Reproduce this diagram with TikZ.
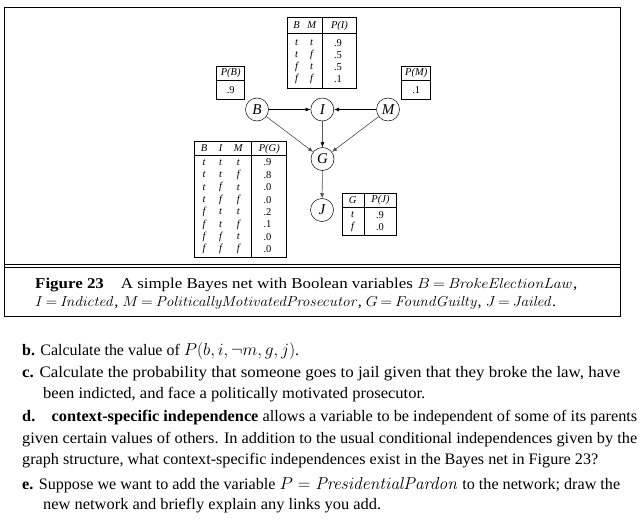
\documentclass[tikz,border=0pt]{standalone}
\usepackage[no-math]{fontspec}
\setmainfont{Liberation Serif}
\usepackage{graphicx}
\usetikzlibrary{arrows.meta}
\newcommand\fitline[2]{\resizebox{#1}{\height}{#2}}
\begin{document}
\begin{tikzpicture}[x=1pt,y=-1pt,
  frame/.style={line width=0.9pt},
  var/.style={circle,draw,line width=0.5pt,inner sep=0pt,minimum size=23pt,font=\fontsize{15}{15}\selectfont\itshape},
  arr/.style={line width=0.6pt,-{Latex[length=5pt,width=4pt]}},
  arrg/.style={arr,draw=black!70},
  tbl/.style={line width=0.7pt},
  tt/.style={inner sep=0pt,font=\fontsize{10.5}{11}\selectfont\itshape},
  tv/.style={inner sep=0pt,font=\fontsize{10.5}{11}\selectfont},
  txt/.style={anchor=base west,inner sep=0pt,font=\fontsize{16}{20}\selectfont},
  captxt/.style={anchor=base west,inner sep=0pt,font=\fontsize{15}{18}\selectfont}]
\useasboundingbox (0,0) rectangle (642,524);
% frame
\draw[frame] (4,7) -- (620,7) -- (620,316) -- (4,316) -- cycle;
\draw[line width=0.6pt] (4,264.7) -- (620,264.7);
\draw[line width=0.6pt] (4,266.8) -- (620,266.8);
% nodes
\node[var] (B) at (257,109.5) {B};
\node[var] (I) at (322.3,109.5) {I};
\node[var] (M) at (388,109.5) {M};
\node[var] (G) at (322.5,159) {G};
\node[var] (J) at (322,210) {J};
\draw[arr] (B) -- (I);
\draw[arr] (M) -- (I);
\draw[arrg] (B) -- (G);
\draw[arr] (I) -- (G);
\draw[arrg] (M) -- (G);
\draw[arrg] (G) -- (J);
% P(B)
\draw[tbl] (216.7,66) rectangle (244.7,99.3);
\draw[tbl] (216.7,80) -- (244.7,80);
\node[tt] (pbh) at (230.7,73) {P(B)};
\node[tv] (pbv) at (230.7,90) {.9};
% P(M)
\draw[tbl] (401.7,66) rectangle (430.7,99.3);
\draw[tbl] (401.7,80) -- (430.7,80);
\node[tt] (pmh) at (416.2,73) {P(M)};
\node[tv] (pmv) at (416.2,90) {.1};
% P(I)
\draw[tbl] (287.3,17.3) rectangle (356.7,88.3);
\draw[tbl] (287.3,33.3) -- (356.7,33.3);
\draw[tbl] (322.7,17.3) -- (322.7,88.3);
\node[tt] (pih1) at (296.7,25.5) {B};
\node[tt] (pih2) at (311.7,25.5) {M};
\node[tt] (pih3) at (339.5,25.5) {P(I)};
\foreach \a/\b/\v [count=\k from 0] in {t/t/.9,t/f/.5,f/t/.5,f/f/.1}{
  \node[tt] (pia\k) at (296.7,42.7+\k*12.1) {\a};
  \node[tt] (pib\k) at (311.7,42.7+\k*12.1) {\b};
  \node[tv] (piv\k) at (338,42.7+\k*12.1) {\v};
}
% P(G)
\draw[tbl] (194.3,141.7) rectangle (286.7,257.3);
\draw[tbl] (194.3,155) -- (286.7,155);
\draw[tbl] (251.7,141.7) -- (251.7,257.3);
\node[tt] (pgh1) at (204,148.5) {B};
\node[tt] (pgh2) at (220.7,148.5) {I};
\node[tt] (pgh3) at (238.3,148.5) {M};
\node[tt] (pgh4) at (269.3,148.5) {P(G)};
\foreach \a/\b/\c/\v [count=\k from 0] in {t/t/t/.9,t/t/f/.8,t/f/t/.0,t/f/f/.0,f/t/t/.2,f/t/f/.1,f/f/t/.0,f/f/f/.0}{
  \node[tt] (pga\k) at (204,162.3+\k*12.43) {\a};
  \node[tt] (pgb\k) at (220.7,162.3+\k*12.43) {\b};
  \node[tt] (pgc\k) at (238.3,162.3+\k*12.43) {\c};
  \node[tv] (pgv\k) at (267.5,162.3+\k*12.43) {\v};
}
% P(J)
\draw[tbl] (342.7,193.3) rectangle (396,235);
\draw[tbl] (342.7,207.3) -- (396,207.3);
\draw[tbl] (364.3,193.3) -- (364.3,235);
\node[tt] (pjh1) at (352.7,200) {G};
\node[tt] (pjh2) at (380.5,200) {P(J)};
\node[tt] (pja0) at (352.7,215) {t};
\node[tt] (pja1) at (352.7,226.7) {f};
\node[tv] (pjv0) at (380,215) {.9};
\node[tv] (pjv1) at (380,226.7) {.0};
% caption
\node[captxt] (c1) at (35,288) {\fitline{542pt}{\textbf{Figure 23}\quad A simple Bayes net with Boolean variables $B\,{=}\,\mathit{BrokeElectionLaw}$,}};
\node[captxt] (c2) at (35,306) {\fitline{521pt}{$I\,{=}\,\mathit{Indicted}$, $M\,{=}\,\mathit{PoliticallyMotivatedProsecutor}$, $G\,{=}\,\mathit{FoundGuilty}$, $J\,{=}\,\mathit{Jailed}$.}};
% body text
\node[txt] (l1) at (22,355) {\fitline{277pt}{\textbf{b.} Calculate the value of $P(b,i,\neg m,g,j)$.}};
\node[txt] (l2) at (22,377) {\fitline{598pt}{\textbf{c.} Calculate the probability that someone goes to jail given that they broke the law, have}};
\node[txt] (l3) at (43,398) {\fitline{382pt}{been indicted, and face a politically motivated prosecutor.}};
\node[txt] (l4) at (22,421) {\fitline{615pt}{\textbf{d.}\quad\textbf{context-specific independence} allows a variable to be independent of some of its parents}};
\node[txt] (l5) at (22,443) {\fitline{615pt}{given certain values of others. In addition to the usual conditional independences given by the}};
\node[txt] (l6) at (22,464) {\fitline{576pt}{graph structure, what context-specific independences exist in the Bayes net in Figure 23?}};
\node[txt] (l7) at (22,489) {\fitline{598pt}{\textbf{e.} Suppose we want to add the variable $P = \mathit{PresidentialPardon}$ to the network; draw the}};
\node[txt] (l8) at (43,509) {\fitline{338pt}{new network and briefly explain any links you add.}};
\end{tikzpicture}
\end{document}
